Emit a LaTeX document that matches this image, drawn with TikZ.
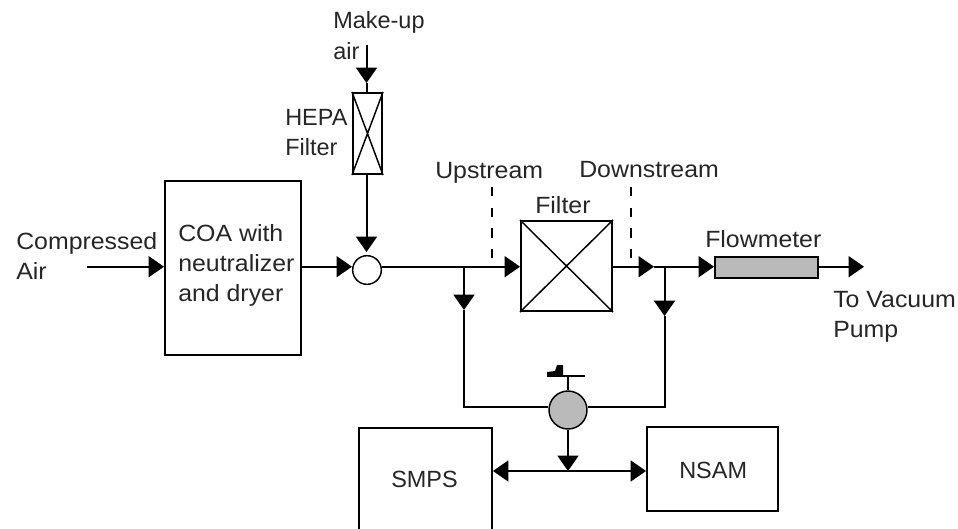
\documentclass[tikz,border=0pt]{standalone}
\usepackage{fontspec}
\setmainfont{Liberation Sans}
\newfontfamily\labfont[FakeStretch=1.06]{Liberation Sans}
\usetikzlibrary{arrows.meta}
\tikzset{
  line/.style={line width=1.5pt},
  flow/.style={line, -{Triangle[length=11.5pt,width=16pt,line width=0pt]}},
  boxed/.style={draw, line width=1.5pt, inner sep=0pt, anchor=north west},
  ring/.style={draw, line width=1.1pt, circle, inner sep=0pt},
  lab/.style={inner sep=0pt, anchor=base west, font=\labfont\fontsize{17.6pt}{22.5pt}\selectfont, align=left, text=black!85},
  plainlab/.style={lab, font=\rmfamily\fontsize{17.6pt}{22.5pt}\selectfont},
  dashline/.style={line width=1.2pt, dash pattern=on 7pt off 8.5pt}
}
\begin{document}
\begin{tikzpicture}[x=0.75pt,y=-0.75pt]
\path[use as bounding box] (0,0) rectangle (958,529);
\clip (0,0) rectangle (958,529);
\fill[white] (0,0) rectangle (958,529);
% boxes
\node[boxed, minimum width=102pt, minimum height=130.5pt] (coa) at (164,180) {};
\node[boxed, minimum width=68.25pt, minimum height=67.5pt] (filter) at (520,220) {};
\node[boxed, minimum width=21.75pt, minimum height=60.75pt] (hepa) at (352,92) {};
\node[boxed, fill=black!27, minimum width=77.25pt, minimum height=15.75pt] (fm) at (714,256) {};
\node[boxed, minimum width=99.75pt, minimum height=112pt] (smps) at (358,427) {};
\node[boxed, minimum width=98.25pt, minimum height=63pt] (nsam) at (646,426) {};
\node[ring, minimum size=21.5pt] (mix) at (367,270) {};
\node[ring, fill=black!27, minimum size=28.5pt] (valve) at (568,410) {};
% crosses
\draw[line width=1.1pt] (filter.north west) -- (filter.south east) (filter.north east) -- (filter.south west);
\draw[line width=1.1pt] (hepa.north west) -- (hepa.south east) (hepa.north east) -- (hepa.south west);
% free ends and junctions
\coordinate (airin) at (87,266.7);
\coordinate (mkup) at (366.5,45);
\coordinate (mkupm) at (366.5,83);
\coordinate (mixin) at (366.5,252);
\coordinate (j1) at (464,266.7);
\coordinate (j2) at (664.5,266.7);
\coordinate (ja) at (654,266.7);
\coordinate (jb) at (464,406.7);
\coordinate (jc) at (664.5,406.7);
\coordinate (out) at (864,266.7);
\coordinate (j3) at (568,471);
\coordinate (h) at (568,376);
\coordinate (hl) at (547,376);
\coordinate (hr) at (585,376);
\coordinate (a1) at (464,310);
\coordinate (a2) at (664.5,316);
\coordinate (du) at (492,187);
\coordinate (dub) at (492,266.7);
\coordinate (dd) at (631,187);
\coordinate (ddb) at (631,266.7);
% connectors
\draw[flow] (airin) -- (coa.west |- airin);
\draw[flow] (coa.east |- j1) -- (mix.west |- j1);
\draw[line] (mix.east |- j1) -- (j1);
\draw[flow] (j1) -- (filter.west |- j1);
\draw[flow] (filter.east |- j1) -- (ja);
\draw[flow] (ja) -- (fm.west |- ja);
\draw[flow] (fm.east |- out) -- (out);
\draw[flow] (mkup) -- (mkupm);
\draw[line] (mkupm) -- (mkupm |- hepa.north);
\draw[flow] (mkupm |- hepa.south) -- (mixin);
\draw[flow] (j1) -- (a1);
\draw[line] (a1) -- (jb) -- (valve.west |- jb);
\draw[flow] (j2) -- (a2);
\draw[line] (a2) -- (jc) -- (valve.east |- jc);
\draw[flow] (valve.south) -- (j3);
\draw[flow] (j3) -- (smps.east |- j3);
\draw[flow] (j3) -- (nsam.west |- j3);
\draw[line] (valve.north) -- (h);
\draw[line] (hl) -- (hr);
\fill (547,376.5) -- (547,372) -- (555,371) -- (557,365) -- (563,365) -- (563,376.5) -- cycle;
\draw[dashline] (du) -- (dub);
\draw[dashline] (dd) -- (ddb);
% labels
\node[lab] (coat) at (178,301) {COA with\\neutralizer\\and dryer};
\node[plainlab] (smpst) at (391,487) {SMPS};
\node[plainlab] (nsamt) at (679,478) {NSAM};
\node[plainlab] (mk) at (333,59) {Make-up\\[0.75pt]air};
\node[plainlab] (he) at (285,155) {HEPA\\Filter};
\node[lab] (up) at (435,178) {Upstream};
\node[lab] (down) at (579,177) {Downstream};
\node[lab] (fil) at (535,213) {Filter};
\node[lab] (flo) at (705,247) {Flowmeter};
\node[lab] (ca) at (16,279) {Compressed\\Air};
\node[lab] (vp) at (833,337) {To Vacuum\\Pump};
\end{tikzpicture}
\end{document}
